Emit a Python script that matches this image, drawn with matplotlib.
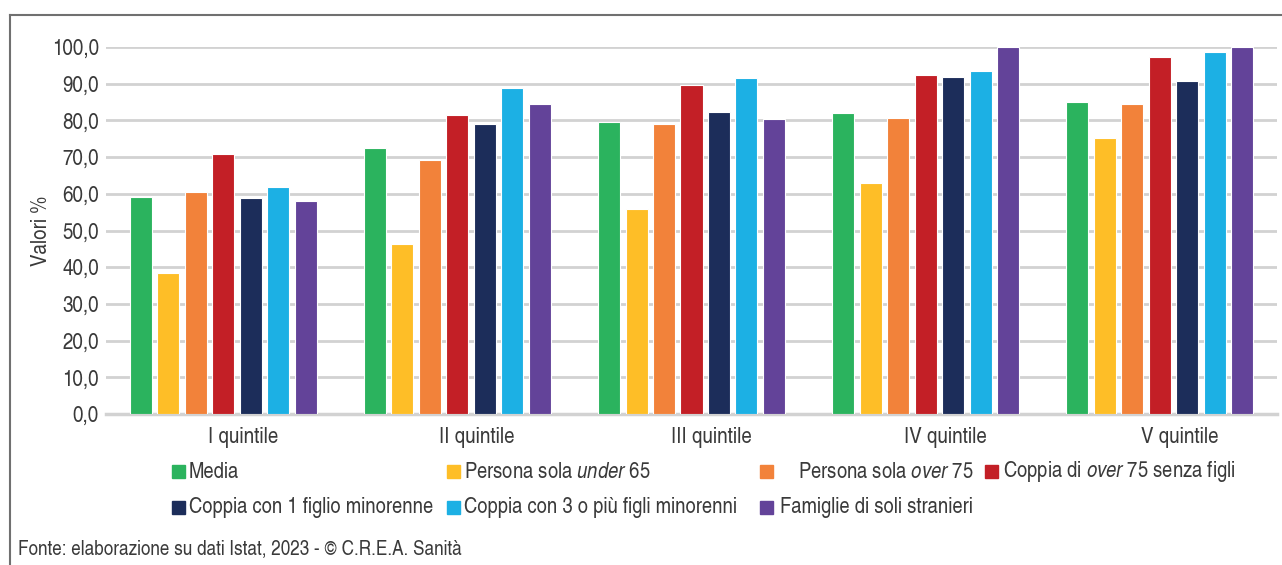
import matplotlib
matplotlib.use("Agg")
from matplotlib import pyplot as plt
from matplotlib.patches import Rectangle
from matplotlib.lines import Line2D
from matplotlib.transforms import ScaledTranslation
import numpy as np

FONT = "TeX Gyre Heros Cn"
TEXT_COLOR = "#3a3a3a"
W, H = 1282, 565

QUINTILI = ["I quintile", "II quintile", "III quintile", "IV quintile", "V quintile"]
SERIES = [
    "Media",
    "Persona sola $\\mathit{under}$ 65",
    " Persona sola $\\mathit{over}$ 75",
    "Coppia di $\\mathit{over}$ 75 senza figli",
    "Coppia con 1 figlio minorenne",
    "Coppia con 3 o più figli minorenni",
    "Famiglie di soli stranieri",
]
COLORS = ["#2bb35e", "#febe27", "#f2823a", "#c31f26", "#1c2d5a", "#1cb0e4", "#634399"]

media = [59.2, 72.4, 79.6, 82.1, 85.0]
sola_under65 = [38.4, 46.3, 55.9, 62.9, 75.2]
sola_over75 = [60.5, 69.2, 79.1, 80.7, 84.5]
coppia_over75 = [70.8, 81.5, 89.6, 92.4, 97.4]
coppia_1figlio = [58.9, 79.1, 82.2, 91.8, 90.6]
coppia_3figli = [61.9, 88.7, 91.6, 93.5, 98.6]
stranieri = [58.0, 84.5, 80.3, 100.0, 100.0]
VALUES = [media, sola_under65, sola_over75, coppia_over75, coppia_1figlio, coppia_3figli, stranieri]

Y_TICKS = np.arange(0, 101, 10)
Y_LABELS = [f"{v:.1f}".replace(".", ",") for v in Y_TICKS]

plt.rcParams["font.family"] = [FONT, "DejaVu Sans"]
plt.rcParams["mathtext.fontset"] = "custom"
plt.rcParams["mathtext.rm"] = FONT
plt.rcParams["mathtext.it"] = FONT + ":italic"

fig = plt.figure(figsize=(W / 100, H / 100), dpi=100)
ax = fig.add_axes([106 / W, 1 - 414 / H, (1277 - 106) / W, (414 - 47) / H])

x = np.arange(len(QUINTILI))
pitch = 0.1174
width = 0.094
for j, (vals, col) in enumerate(zip(VALUES, COLORS)):
    ax.bar(x + (j - 3) * pitch, vals, width=width, color=col,
           edgecolor="white", linewidth=0.8, zorder=3)

ax.set_xlim(-0.5, len(QUINTILI) - 0.5)
ax.set_ylim(0, 100)
ax.set_yticks(Y_TICKS)
ax.set_yticklabels(Y_LABELS)
ax.set_xticks(x)
ax.set_xticklabels(QUINTILI)
ax.tick_params(length=0, labelsize=16.5, colors=TEXT_COLOR)
ax.tick_params(axis="y", pad=5)
ax.tick_params(axis="x", pad=9)
for lab in ax.get_xticklabels():
    lab.set_transform(lab.get_transform() + ScaledTranslation(0.2, 0, fig.dpi_scale_trans))
ax.grid(axis="y", color="#d2d2d2", linewidth=2, zorder=0)
for s in ["top", "right", "left"]:
    ax.spines[s].set_visible(False)
ax.spines["bottom"].set_color("#d2d2d2")
ax.spines["bottom"].set_linewidth(2.5)
ax.set_ylabel("Valori %", fontsize=16.5, color=TEXT_COLOR, labelpad=0)

# legenda
leg_pos = [(172, 465, 189), (447, 465, 464), (760, 465, 793), (985, 465, 1003),
           (172, 501, 189), (447, 501, 464), (760, 501, 780)]
for (sx, sy, tx), lab, col in zip(leg_pos, SERIES, COLORS):
    fig.patches.append(Rectangle((sx / W, 1 - (sy + 13) / H), 13 / W, 13 / H,
                                 transform=fig.transFigure, color=col))
    fig.text(tx / W, 1 - (sy + 7) / H, lab, fontsize=16.2, color=TEXT_COLOR,
             va="center", ha="left")

fig.text(18 / W, 1 - 550 / H, "Fonte: elaborazione su dati Istat, 2023 - © C.R.E.A. Sanità",
         fontsize=15, color=TEXT_COLOR, va="center", ha="left")

# cornice
fig.add_artist(Line2D([10 / W, 1], [1 - 15 / H, 1 - 15 / H], transform=fig.transFigure,
                      color="#707070", linewidth=1.5))
fig.add_artist(Line2D([10 / W, 10 / W], [0, 1 - 15 / H], transform=fig.transFigure,
                      color="#707070", linewidth=1.5))

fig.savefig("out.png", dpi=100)
